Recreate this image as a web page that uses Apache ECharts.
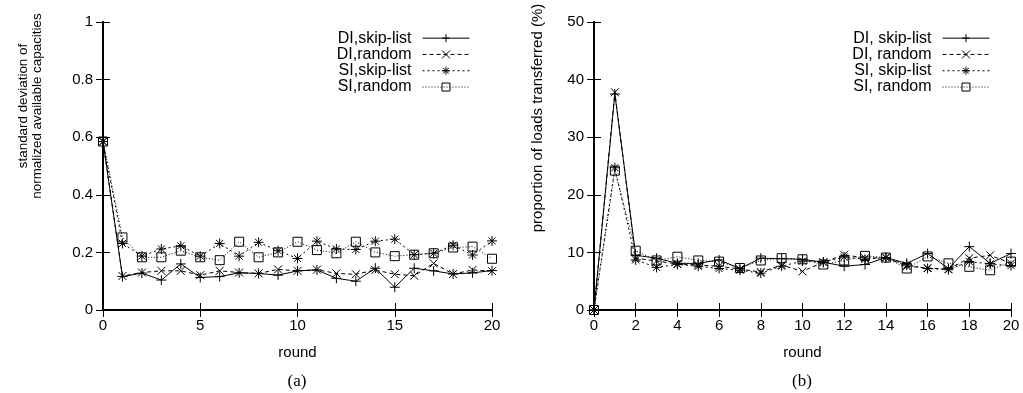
<!DOCTYPE html>
<html>
<head>
<meta charset="utf-8">
<script src="https://cdn.jsdelivr.net/npm/echarts@6/dist/echarts.min.js"></script>
<style>html,body{margin:0;padding:0;background:#fff}#c{width:1023px;height:393px}</style>
</head>
<body>
<div id="c"></div>
<script>
const rounds = [0,1,2,3,4,5,6,7,8,9,10,11,12,13,14,15,16,17,18,19,20];

// (a) standard deviation of normalized available capacities
const namesA = ['DI,skip-list','DI,random','SI,skip-list','SI,random'];
const aDISkip   = [0.585,0.116,0.128,0.104,0.160,0.113,0.116,0.129,0.127,0.121,0.136,0.139,0.110,0.100,0.145,0.079,0.145,0.136,0.125,0.129,0.137];
const aDIRandom = [0.585,0.118,0.130,0.136,0.136,0.121,0.136,0.130,0.127,0.141,0.136,0.140,0.127,0.124,0.139,0.124,0.119,0.162,0.125,0.139,0.135];
const aSISkip   = [0.585,0.231,0.187,0.212,0.223,0.187,0.231,0.187,0.235,0.206,0.179,0.239,0.212,0.210,0.239,0.246,0.192,0.197,0.225,0.191,0.240];
const aSIRandom = [0.585,0.252,0.183,0.183,0.206,0.183,0.173,0.237,0.183,0.200,0.237,0.208,0.197,0.237,0.200,0.187,0.192,0.197,0.217,0.220,0.178];

// (b) proportion of loads transferred (%)
const namesB = ['DI, skip-list','DI, random','SI, skip-list','SI, random'];
const bDISkip   = [0,37.5,9.5,9.0,8.1,8.1,8.7,7.2,9.0,8.9,8.8,8.3,7.6,7.9,9.1,8.1,9.8,7.2,11.0,8.1,9.8];
const bDIRandom = [0,37.8,9.0,8.5,8.0,7.8,7.6,7.1,6.6,7.8,6.7,8.3,9.6,9.0,9.1,7.6,7.3,7.1,9.0,9.5,8.1];
const bSISkip   = [0,24.7,8.7,7.4,7.9,7.6,7.2,6.9,6.4,7.6,8.5,8.3,9.2,8.8,9.1,7.8,7.2,7.0,8.4,8.0,7.7];
const bSIRandom = [0,24.2,10.3,8.6,9.25,8.6,8.4,7.3,8.6,9.0,8.8,7.9,8.6,9.4,9.1,7.2,9.3,8.1,7.5,6.9,8.4];

const FONT = 'Liberation Sans';
const symPlus = 'path://M0,5L10,5M5,0L5,10';
const symCross = 'path://M0,0L10,10M10,0L0,10';
const symStar = 'path://M0,5L10,5M5,0L5,10M1.5,1.5L8.5,8.5M8.5,1.5L1.5,8.5';
const symBox = 'path://M0,0L10,0L10,10L0,10Z';

const styles = [
  {symbol: symPlus,  size: 10, dash: 'solid'},
  {symbol: symCross, size: 8,  dash: [4,3]},
  {symbol: symStar,  size: 10, dash: [2,3]},
  {symbol: symBox,   size: 9,  dash: [1,2]}
];

function mkSeries(name, vals, st, idx) {
  return {
    type: 'line', name: name,
    xAxisIndex: idx * 2, yAxisIndex: idx * 2,
    data: rounds.map((r, i) => [r, vals[i]]),
    symbol: st.symbol, symbolSize: st.size, showAllSymbol: true,
    lineStyle: {color: '#000', width: 1, type: st.dash},
    itemStyle: {color: 'rgba(0,0,0,0)', borderColor: '#000', borderWidth: 1},
    emphasis: {disabled: true},
    animation: false
  };
}

function axesX(grid, interval) {
  return [
    {gridIndex: grid, type: 'value', min: 0, max: 20, interval: interval, position: 'bottom',
     axisLine: {lineStyle: {color: '#000', width: 2}},
     axisTick: {inside: true, length: 7, lineStyle: {color: '#000', width: 1}},
     axisLabel: {color: '#000', fontFamily: FONT, fontSize: 15, margin: 8},
     splitLine: {show: false},
     name: 'round', nameLocation: 'middle', nameGap: 35,
     nameTextStyle: {color: '#000', fontFamily: FONT, fontSize: 15}},
    {gridIndex: grid, type: 'value', min: 0, max: 20, interval: interval, position: 'top',
     axisLine: {lineStyle: {color: '#000', width: 1}},
     axisTick: {inside: true, length: 7, lineStyle: {color: '#000', width: 1}},
     axisLabel: {show: false}, splitLine: {show: false}}
  ];
}
function axesY(grid, max, interval) {
  return [
    {gridIndex: grid, type: 'value', min: 0, max: max, interval: interval, position: 'left',
     axisLine: {show: true, lineStyle: {color: '#000', width: 2}},
     axisTick: {show: true, inside: true, length: 7, lineStyle: {color: '#000', width: 1}},
     axisLabel: {color: '#000', fontFamily: FONT, fontSize: 15, margin: 10},
     splitLine: {show: false}},
    {gridIndex: grid, type: 'value', min: 0, max: max, interval: interval, position: 'right',
     axisLine: {show: true, lineStyle: {color: '#000', width: 1}},
     axisTick: {show: true, inside: true, length: 7, lineStyle: {color: '#000', width: 1}},
     axisLabel: {show: false}, splitLine: {show: false}}
  ];
}

const valsA = [aDISkip, aDIRandom, aSISkip, aSIRandom];
const valsB = [bDISkip, bDIRandom, bSISkip, bSIRandom];
const series = [];
namesA.forEach((n, i) => series.push(mkSeries(n, valsA[i], styles[i], 0)));
namesB.forEach((n, i) => series.push(mkSeries(n, valsB[i], styles[i], 1)));

const legendBase = {
  orient: 'vertical', align: 'right', top: 30, padding: 0,
  itemWidth: 47, itemHeight: 10, itemGap: 0,
  lineStyle: {width: 1},
  itemStyle: {color: 'rgba(0,0,0,0)', borderColor: '#000', borderWidth: 1},
  textStyle: {color: '#000', fontFamily: FONT, fontSize: 16, lineHeight: 16.3, padding: [0, 6, 0, 0]},
  selectedMode: false
};

const chart = echarts.init(document.getElementById('c'), null, {renderer: 'canvas'});
chart.setOption({
  backgroundColor: '#fff',
  animation: false,
  grid: [
    {left: 103, right: 531, top: 22, bottom: 83},
    {left: 594, right: 12, top: 22, bottom: 83}
  ],
  xAxis: axesX(0, 5).concat(axesX(1, 2)),
  yAxis: axesY(0, 1, 0.2).concat(axesY(1, 50, 10)),
  legend: [
    Object.assign({}, legendBase, {data: namesA, right: 553}),
    Object.assign({}, legendBase, {data: namesB, right: 33})
  ],
  graphic: [
    {type: 'text', x: 30, y: 106, rotation: Math.PI / 2,
     style: {text: 'standard deviation of\nnormalized available capacities', align: 'center', verticalAlign: 'middle',
             font: '13.4px "Liberation Sans"', lineHeight: 14, fill: '#000'}},
    {type: 'text', x: 538, y: 118, rotation: Math.PI / 2,
     style: {text: 'proportion of loads transferred (%)', align: 'center', verticalAlign: 'middle',
             font: '15px "Liberation Sans"', fill: '#000'}},
    {type: 'text', x: 297, y: 382,
     style: {text: '(a)', align: 'center', verticalAlign: 'middle', font: '17px "Liberation Serif"', fill: '#000'}},
    {type: 'text', x: 802, y: 382,
     style: {text: '(b)', align: 'center', verticalAlign: 'middle', font: '17px "Liberation Serif"', fill: '#000'}}
  ],
  series: series
});
</script>
</body>
</html>
